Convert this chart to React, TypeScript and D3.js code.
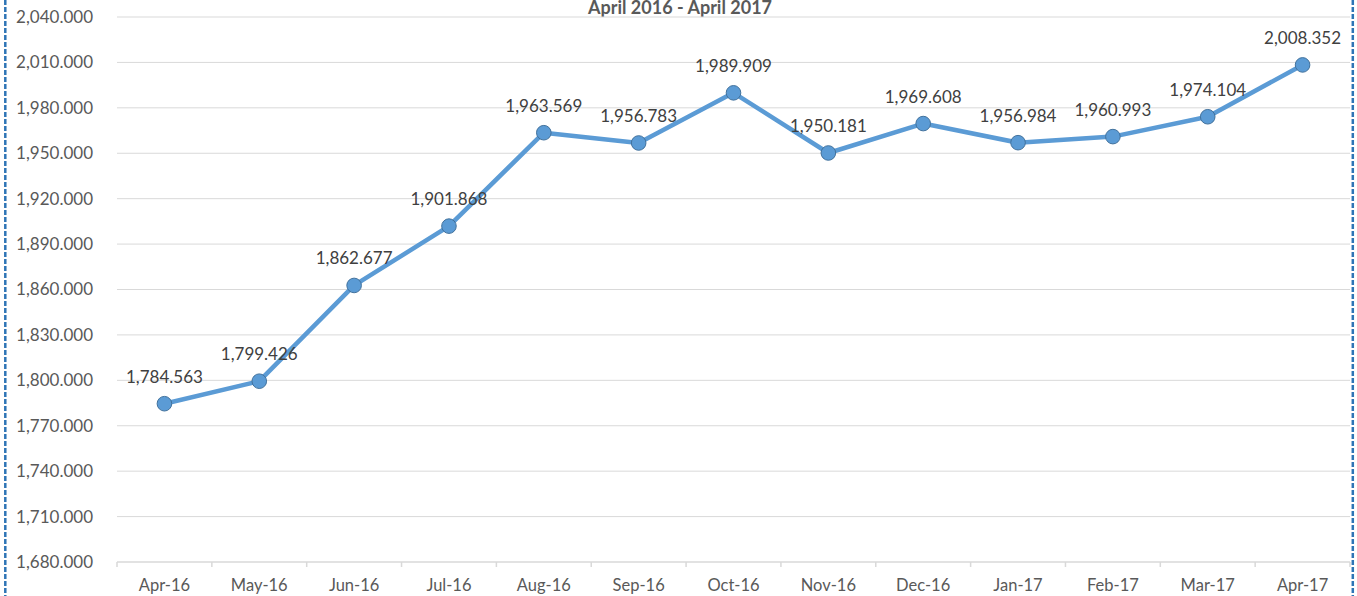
import React from "react";
import * as d3 from "d3";

const categories = ["Apr-16","May-16","Jun-16","Jul-16","Aug-16","Sep-16","Oct-16","Nov-16","Dec-16","Jan-17","Feb-17","Mar-17","Apr-17"];
const values = [1784.563,1799.426,1862.677,1901.868,1963.569,1956.783,1989.909,1950.181,1969.608,1956.984,1960.993,1974.104,2008.352];
const yTicks = [1680,1710,1740,1770,1800,1830,1860,1890,1920,1950,1980,2010,2040];
const title = "April 2016 - April 2017";

const W = 1357, H = 596;
const left = 117, right = 1350, top = 17, bottom = 562;
const FONT = "Lato, 'Open Sans', sans-serif";

export default function App() {
  const x = d3.scaleBand<string>().domain(categories).range([left, right]);
  const y = d3.scaleLinear().domain([1680, 2040]).range([bottom, top]);
  const fmt = d3.format(",.3f");
  const line = d3.line<number>()
    .x((_, i) => (x(categories[i]) as number) + x.bandwidth() / 2)
    .y((d) => y(d));
  const boundaries = d3.range(categories.length + 1).map((i) => left + i * x.step());

  return (
    <svg width={W} height={H} style={{ position: "absolute", left: 0, top: 0, background: "#fff" }} fontFamily={FONT}>
      <rect x={0} y={0} width={W} height={H} fill="#fff" />
      <text x={680} y={14} textAnchor="middle" fontSize={18} fontWeight="bold" fill="#595959">{title}</text>
      {yTicks.map((t) => (
        <g key={t}>
          {t !== 1680 && <line x1={left} x2={right} y1={y(t)} y2={y(t)} stroke="#d9d9d9" strokeWidth={1} />}
          <text x={93} y={y(t)} dy="0.35em" textAnchor="end" fontSize={17} fill="#595959">{fmt(t)}</text>
        </g>
      ))}
      <line x1={left} x2={right} y1={bottom} y2={bottom} stroke="#d9d9d9" strokeWidth={1.5} />
      {boundaries.map((bx, i) => (
        <line key={i} x1={bx} x2={bx} y1={bottom} y2={bottom + 5} stroke="#d9d9d9" strokeWidth={1.5} />
      ))}
      {categories.map((c) => (
        <text key={c} x={(x(c) as number) + x.bandwidth() / 2} y={591} textAnchor="middle" fontSize={16.5} fill="#595959">{c}</text>
      ))}
      <path d={line(values) || ""} fill="none" stroke="#5B9BD5" strokeWidth={4.5} strokeLinejoin="round" />
      {values.map((v, i) => {
        const cx = (x(categories[i]) as number) + x.bandwidth() / 2;
        return (
          <g key={i}>
            <circle cx={cx} cy={y(v)} r={7.3} fill="#5B9BD5" stroke="#41719C" strokeWidth={1} />
            <text x={cx} y={y(v) - 21} textAnchor="middle" fontSize={17} fill="#404040">{fmt(v)}</text>
          </g>
        );
      })}
      <line x1={5.3} x2={5.3} y1={0} y2={H} stroke="#2E75B6" strokeWidth={2.5} strokeDasharray="5 2" />
      <line x1={1352.8} x2={1352.8} y1={0} y2={H} stroke="#2E75B6" strokeWidth={2.5} strokeDasharray="5 2" />
    </svg>
  );
}
